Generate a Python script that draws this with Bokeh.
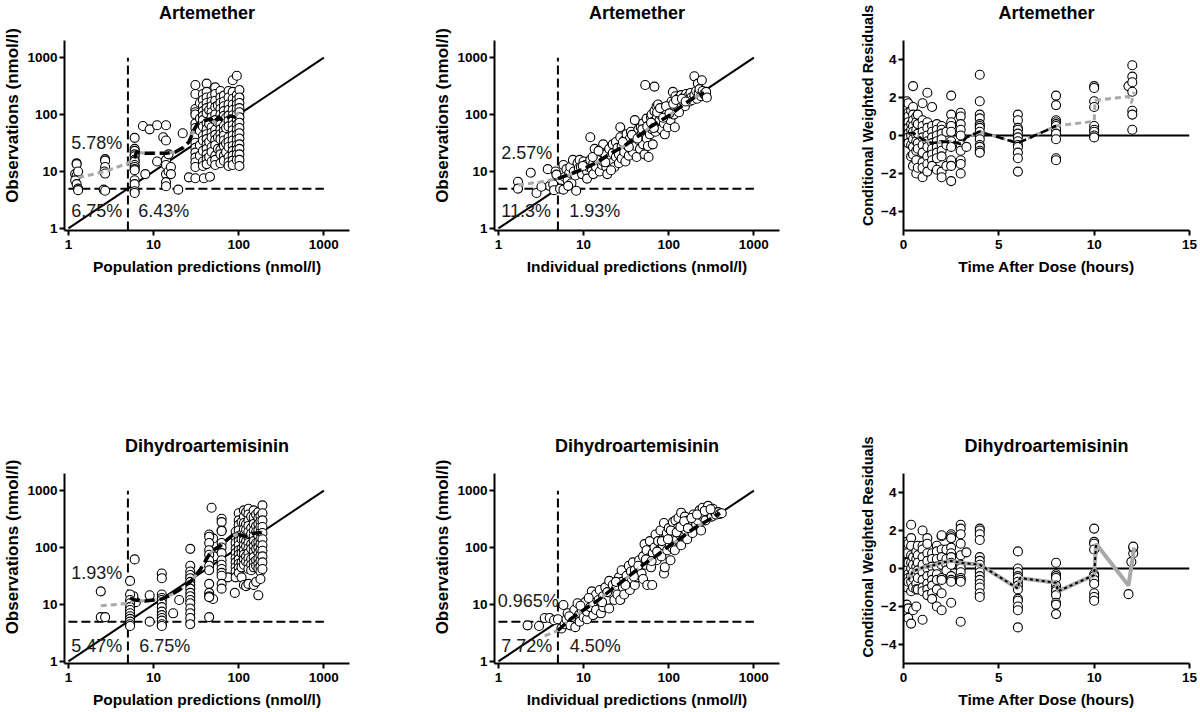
import math
from bokeh.plotting import figure
from bokeh.layouts import row, column
from bokeh.models import FixedTicker, BasicTickFormatter
from bokeh.core.properties import value
from bokeh.embed import file_html
from bokeh.resources import INLINE

FONT = "Liberation Sans"

# ---------------- DATA ----------------
LLOQ = 5
identity = [1, 1000]

# Artemether: population predictions vs observations
art_pred_pairs = [
    (1.25, 14), (1.25, 13.5), (1.2, 9), (1.25, 8.5), (1.3, 10), (1.2, 7), (1.25, 6), (1.3, 5), (1.3, 4.7),
    (2.7, 16.5), (2.7, 15.5), (2.7, 12), (2.65, 10), (2.7, 9.2), (2.6, 4.8), (2.7, 4.6),
    (6, 39), (6, 25), (6, 23), (6, 20), (6, 18.5), (6, 16), (6, 15), (6, 13), (6, 12), (6, 11), (6, 10.5),
    (6, 7), (6, 6), (6, 4.5), (6, 4.2),
    (7.5, 63), (8, 9), (9, 55), (11, 65), (11, 15), (14, 65), (13, 40), (14, 35), (14, 16), (14, 13),
    (14, 9), (14, 6.5), (14, 5.5), (15, 20), (15, 10), (16, 12), (16, 9), (19.5, 4.8), (22, 47),
    (26, 7.9), (31, 7.6), (39, 7.6), (46, 8.1),
]
art_pred_cols = [
    (31, [330, 230, 125, 110, 100, 70, 58, 47, 40, 32, 26, 21.5, 17.5, 14.5, 12]),
    (35, [160, 85, 52, 29, 19]),
    (38, [230, 180, 140, 115, 95, 80, 62, 42, 35, 23, 15, 12.5]),
    (42, [350, 250, 200, 160, 130, 105, 70, 55, 45, 37, 30, 25, 20, 16.5, 13.5]),
    (45, [120, 68, 33, 18]),
    (48, [210, 170, 140, 110, 90, 60, 48, 40, 27, 22, 15]),
    (53, [300, 230, 175, 135, 100, 80, 54, 44, 36, 29, 19, 16, 13]),
    (57, [145, 72, 40, 25]),
    (61, [260, 200, 160, 125, 100, 82, 67, 55, 45, 37, 24, 20, 14]),
    (67, [215, 170, 140, 115, 95, 63, 52, 43, 35, 28, 19, 15.5]),
    (71, [88, 58, 31, 22]),
    (76, [260, 200, 150, 120, 96, 78, 62, 40, 33, 27, 18, 14.5, 12.5]),
    (85, [400, 250, 190, 150, 120, 97, 80, 65, 53, 43, 35, 28, 23, 19, 15.5, 13]),
    (95, [480, 220, 180, 150, 125, 100, 82, 66, 54, 44, 36, 29, 24, 20, 16]),
    (102, [270, 200, 160, 130, 110, 90, 72, 58, 47, 38, 30, 25, 20, 16, 12.5]),
]
art_pred_gray_x = [1.3, 2.7, 5, 6, 6.3, 8, 10, 14, 18, 22, 26, 30, 33, 38, 42, 47, 52, 58, 65, 72, 80, 90, 100]
art_pred_gray_y = [7.8, 10, 14, 17, 22, 21, 21, 21, 22, 26, 33, 55, 70, 75, 80, 85, 72, 90, 78, 85, 95, 90, 110]
art_pred_black_x = [6, 6.3, 8, 10, 14, 18, 22, 26, 30, 33, 38, 42, 47, 52, 58, 65, 72, 80, 90, 100]
art_pred_black_y = [17, 22, 21, 21, 21, 22, 26, 33, 55, 70, 75, 80, 85, 72, 90, 78, 85, 95, 90, 110]
art_pred_pct = ["5.78%", "6.75%", "6.43%"]

# Artemether: individual predictions vs observations
art_ipred_pairs = [
    (1.7, 6.6), (1.7, 5.0), (2.4, 9.5), (2.8, 4.2), (3.8, 11), (4.0, 5.6), (4.4, 6.0), (4.5, 4.7), (4.7, 10),
    (5.3, 5.0), (5.8, 4.8), (6.0, 8.0), (5.8, 13), (6.3, 11), (6.5, 7.0), (6.8, 9.5), (7.0, 12), (7.2, 6.2),
    (7.5, 16), (7.7, 10), (8.0, 8.5), (8.2, 4.6), (8.5, 14), (8.8, 11.5), (9.0, 16), (9.3, 12), (9.6, 9),
    (10, 15), (10.5, 13), (11, 10), (11, 7.5), (11.5, 12), (12, 40), (12, 16), (12.5, 11), (13, 14), (13, 9),
    (13.5, 25), (14, 18), (14, 12), (15, 16), (15.5, 10), (16, 22), (16.5, 13), (17, 15), (17, 30), (18, 20),
    (18.5, 12), (19, 9), (20, 17), (20, 25), (21, 14), (22, 30), (22, 21), (23, 12), (24, 33), (24, 18),
    (25, 26), (26, 20), (26, 14), (27, 60), (27, 40), (28, 28), (28, 17), (30, 35), (30, 22), (31, 15),
    (32, 45), (33, 28), (34, 19), (35, 38), (36, 50), (36, 25), (38, 32), (38, 22), (40, 80), (40, 42),
    (41, 28), (42, 18), (44, 55), (45, 35), (46, 25), (47, 60), (48, 45), (50, 70), (50, 30), (52, 20),
    (53, 330), (54, 50), (55, 85), (55, 38), (57, 28), (58, 18), (60, 65), (60, 45), (62, 90), (63, 100),
    (64, 55), (65, 30), (66, 75), (68, 115), (68, 310), (70, 50), (72, 140), (73, 90), (75, 65), (75, 150),
    (78, 80), (80, 100), (82, 55), (85, 125), (88, 70), (90, 45), (92, 90), (95, 110), (98, 60), (100, 140),
    (105, 80), (108, 170), (110, 120), (112, 250), (115, 100), (118, 60), (120, 210), (125, 150), (128, 190),
    (130, 130), (135, 160), (140, 220), (145, 175), (150, 200), (155, 140), (160, 230), (165, 190),
    (170, 210), (175, 170), (180, 240), (185, 200), (190, 180), (200, 470), (200, 220), (210, 260),
    (215, 190), (220, 350), (225, 240), (230, 280), (240, 210), (245, 400), (250, 260), (260, 230),
    (270, 220), (275, 250), (280, 200),
    (3.2, 5.4), (4.8, 8.8), (6.6, 5.6), (9.8, 12.5), (12.8, 18), (15, 23), (18, 14.5), (21, 10.5),
    (29, 33), (34, 27), (37, 44), (43, 38), (49, 55), (56, 62), (62, 72), (67, 58), (73, 110), (79, 130),
    (86, 88), (93, 140), (102, 105), (113, 155), (122, 180), (132, 110), (143, 190), (158, 170),
]
art_ipred_gray_x = [1.7, 3, 5, 7, 10, 15, 20, 30, 40, 50, 60, 80, 100, 150, 200, 260]
art_ipred_gray_y = [5.8, 6.5, 7.5, 9, 11, 15, 20, 28, 38, 48, 60, 78, 95, 150, 200, 240]
art_ipred_black_x = [5, 7, 10, 15, 20, 30, 40, 50, 60, 80, 100, 150, 200, 260]
art_ipred_black_y = [7.5, 9, 11, 15, 20, 28, 38, 48, 60, 78, 95, 150, 200, 240]
art_ipred_pct = ["2.57%", "11.3%", "1.93%"]

# Artemether: CWRES vs time
art_cwres_cols = [
    (0.17, [1.8, 1.4, 0.9, 0.5, 0.2, -0.2]),
    (0.25, [1.7, 1.2, 1.0, 0.7, 0.4, 0.1, -0.1, -0.4]),
    (0.4, [1.3, 0.6, 0.3, 0.0, -0.5, -1.1]),
    (0.5, [2.6, 1.5, 1.1, 0.8, 0.5, 0.2, -0.2, -0.6, -1.0, -1.6]),
    (0.67, [1.0, 0.7, 0.3, 0.0, -0.3, -0.8, -1.3, -2.0]),
    (0.75, [1.1, 0.6, 0.1, -0.4, -0.7, -1.7]),
    (1.0, [1.7, 0.8, 0.5, 0.2, -0.1, -0.5, -0.9, -1.4, -1.7, -2.2]),
    (1.25, [2.25, 0.7, 0.4, 0.0, -0.3, -0.6, -1.1, -1.5, -1.9]),
    (1.5, [1.5, 0.5, 0.2, -0.1, -0.4, -0.7, -1.0, -1.3, -1.6]),
    (1.75, [0.6, 0.3, 0.0, -0.3, -0.6, -0.9, -1.2, -1.8]),
    (2.0, [0.5, 0.3, 0.1, -0.2, -0.5, -0.8, -1.1, -1.9, -2.2]),
    (2.25, [0.2, -0.5, -1.6]),
    (2.5, [2.1, 1.1, 0.7, 0.5, 0.2, -0.3, -0.6, -1.3, -1.6, -2.4]),
    (3.0, [1.2, 1.0, 0.6, 0.3, 0.0, -0.5, -0.8, -1.3, -1.5, -2.0]),
    (3.3, [-0.6]),
    (4.0, [3.2, 1.8, 1.1, 0.9, 0.6, 0.5, 0.4, 0.2, 0.0, -0.2, -0.5, -0.6, -0.8, -0.9]),
    (6.0, [1.1, 0.8, 0.4, 0.3, 0.1, -0.1, -0.3, -0.5, -0.6, -0.9, -1.2, -1.9]),
    (8.0, [2.1, 1.6, 0.8, 0.7, 0.6, 0.5, 0.3, 0.1, -0.2, -1.2, -1.3]),
    (10.0, [2.6, 2.5, 1.8, 1.5, 0.5, 0.3, 0.2, 0.0, -0.1]),
    (11.8, [2.6]),
    (12.0, [3.7, 3.1, 2.8, 2.3, 1.3, 1.1, 0.3]),
]
art_cwres_black_x = [0.25, 0.5, 1, 1.5, 2, 2.5, 3, 3.3, 4, 6, 8]
art_cwres_black_y = [0.1, 0.15, -0.2, -0.4, -0.35, -0.3, -0.45, -0.1, 0.2, -0.4, 0.5]
art_cwres_gray_x = [0.25, 0.5, 1, 1.5, 2, 2.5, 3, 3.3, 4, 6, 8, 10, 10.05, 11.8, 11.95, 12.1]
art_cwres_gray_y = [0.1, 0.15, -0.2, -0.4, -0.35, -0.3, -0.45, -0.1, 0.2, -0.4, 0.5, 0.75, 1.85, 2.05, 1.7, 2.3]

# Dihydroartemisinin: population predictions vs observations
dha_pred_pairs = [
    (2.4, 17), (2.4, 6), (2.7, 6), (6, 62), (6.2, 11), (5.8, 14), (9, 14.5), (9, 5), (17, 7), (20, 12),
    (48, 500), (50, 145), (50, 12.5), (52, 70), (75, 30), (90, 16),
]
dha_pred_cols = [
    (5.3, [26, 15, 12, 10.5, 9, 8, 7, 6.2, 5.6, 5, 4.5, 4.2]),
    (12.5, [35, 29, 15, 13, 12, 10.5, 9, 7.5, 6.5, 5.8, 5.2, 4.5, 4.2]),
    (27, [95, 48, 38, 33, 29, 25, 22, 19, 16, 14, 12, 10.5, 8.5, 7, 5.8, 4.5]),
    (45, [170, 155, 120, 90, 75, 60, 48, 40, 23, 16, 14, 13.5, 6]),
    (63, [320, 280, 200, 195, 120, 100, 80, 60, 50, 42, 36, 32, 23, 19]),
    (92, [190, 150, 120, 95, 80, 65, 55, 45, 38, 30]),
    (100, [400, 300, 250, 200, 160, 130, 110, 90, 75, 62, 52, 44, 36]),
    (108, [280, 170, 140, 95, 80, 55, 45, 30]),
    (115, [450, 350, 270, 210, 165, 135, 110, 90, 75, 62, 50, 22]),
    (122, [420, 260, 205, 130, 105, 70, 57, 21]),
    (130, [480, 380, 300, 240, 190, 150, 120, 97, 80, 65, 52, 42, 23]),
    (140, [350, 220, 175, 115, 95, 63, 50, 40]),
    (150, [450, 340, 260, 200, 160, 130, 105, 85, 68, 55, 45, 22]),
    (160, [380, 240, 190, 120, 95, 60, 48, 25]),
    (170, [420, 330, 260, 200, 160, 125, 100, 80, 65, 52, 43, 14.5]),
    (180, [360, 290, 230, 180, 140, 115, 90, 72, 58, 46, 38, 28]),
    (190, [550, 400, 300, 230, 180, 140, 110, 88, 70, 55, 42]),
]
dha_pred_gray_x = [2.4, 5.2, 6, 8, 10, 12.5, 15, 20, 27, 35, 45, 50, 60, 70, 85, 100, 120, 140, 160, 190]
dha_pred_gray_y = [9.5, 10.5, 12, 11.5, 12, 12.5, 14, 18, 25, 40, 75, 90, 105, 130, 165, 170, 155, 175, 180, 185]
dha_pred_black_x = [5.3, 6, 8, 10, 12.5, 15, 20, 27, 35, 45, 50, 60, 70, 85, 100, 120, 140, 160, 190]
dha_pred_black_y = [13, 12, 11.5, 12, 12.5, 14, 18, 25, 40, 75, 90, 105, 130, 165, 170, 155, 175, 180, 185]
dha_pred_pct = ["1.93%", "5.47%", "6.75%"]

# Dihydroartemisinin: individual predictions vs observations
dha_ipred_pairs = [
    (2.2, 4.3), (3.0, 4.2), (3.5, 5.8), (4.0, 5.8), (4.5, 5.3), (5.0, 5.5), (5.5, 3.8), (5.8, 9.8), (6, 4.5),
    (6.3, 5.5), (6.5, 7), (7, 4.3), (7.2, 6), (7.8, 8), (8, 4), (8.5, 10.5), (8.8, 6.5), (9, 5), (9.5, 8),
    (10, 6), (10.5, 11), (11, 5.5), (11, 7.5), (12, 9), (12.5, 17), (13, 11), (13, 6.5), (14, 15), (14, 8),
    (15, 12), (15.5, 18), (16, 7), (17, 14), (17, 9), (18, 20), (19, 12), (20, 26), (20, 8.5), (21, 16),
    (22, 22), (23, 12), (24, 19), (25, 15), (26, 30), (27, 12), (28, 40), (28, 25), (29, 20), (30, 15),
    (32, 32), (33, 25), (34, 48), (35, 18), (36, 38), (37, 28), (38, 55), (40, 22), (40, 40), (42, 30),
    (45, 60), (46, 45), (48, 35), (50, 70), (50, 28), (52, 115), (53, 50), (55, 90), (56, 22), (58, 65),
    (60, 130), (62, 45), (64, 22), (65, 80), (68, 100), (70, 170), (72, 60), (75, 130), (78, 90), (80, 200),
    (82, 70), (85, 110), (88, 270), (88, 35), (90, 45), (92, 150), (95, 180), (96, 90), (100, 220),
    (102, 120), (105, 60), (108, 160), (110, 100), (112, 280), (115, 190), (118, 90), (120, 300),
    (125, 140), (128, 220), (130, 330), (135, 170), (140, 410), (140, 110), (145, 250), (150, 160),
    (155, 350), (160, 200), (165, 140), (170, 300), (175, 230), (180, 260), (190, 180), (195, 380),
    (200, 320), (210, 250), (220, 300), (230, 450), (240, 200), (245, 360), (250, 500), (260, 380),
    (270, 300), (280, 430), (290, 540), (300, 420), (320, 350), (330, 480), (350, 410), (360, 380),
    (380, 420), (400, 390), (420, 400),
    (6.8, 6.2), (9.2, 9.5), (11.5, 13), (16.5, 11), (19, 16.5), (24, 25), (31, 22), (39, 31), (44, 48),
    (54, 62), (63, 58), (73, 85), (83, 130), (98, 140), (106, 200), (124, 185), (137, 230), (152, 290),
    (168, 220), (185, 330), (215, 380), (265, 440), (310, 470),
]
dha_ipred_gray_x = [3.5, 5, 7, 10, 15, 20, 30, 50, 70, 100, 150, 200, 300, 400]
dha_ipred_gray_y = [2.8, 3.5, 5.5, 8, 12, 17, 27, 50, 70, 105, 160, 220, 310, 400]
dha_ipred_black_x = [5, 7, 10, 15, 20, 30, 50, 70, 100, 150, 200, 300, 400]
dha_ipred_black_y = [3.5, 5.5, 8, 12, 17, 27, 50, 70, 105, 160, 220, 310, 400]
dha_ipred_pct = ["0.965%", "7.72%", "4.50%"]

# Dihydroartemisinin: CWRES vs time
dha_cwres_cols = [
    (0.17, [1.4, 0.8, 0.3, -0.1, -0.6, -1.0, -1.9, -2.2]),
    (0.25, [1.3, 0.3, -0.3, -0.5, -0.7, -2.1, -2.6]),
    (0.4, [2.3, 1.6, 1.2, 0.7, 0.3, 0.0, -0.4, -0.7, -1.2, -2.9]),
    (0.5, [0.6, 0.2, -0.2, -0.5, -1.0, -2.2]),
    (0.67, [0.9, 0.5, 0.1, -0.3, -0.8, -1.1, -2.0]),
    (0.75, [1.2, 0.7, 0.3, -0.1, -0.5, -1.1]),
    (1.0, [2.0, 1.2, 1.0, 0.6, 0.2, -0.2, -0.6, -1.0, -1.2, -2.7]),
    (1.25, [1.6, 1.3, 0.8, 0.4, 0.0, -0.4, -0.8, -1.1, -1.4]),
    (1.5, [0.8, 0.5, 0.1, -0.3, -0.6, -0.9, -1.3, -1.6]),
    (1.75, [1.2, 0.9, 0.5, 0.1, -0.3, -0.6, -1.1, -2.0]),
    (2.0, [1.7, 1.75, 1.0, 0.6, 0.2, -0.5, -0.6, -1.3, -2.2]),
    (2.25, [1.0, 0.5, 0.2, -0.1]),
    (2.5, [1.8, 1.7, 1.6, 1.1, 0.8, 0.6, 0.3, 0.2, -0.4, -0.6, -0.7, -1.8]),
    (3.0, [2.3, 2.1, 1.8, 1.3, 0.7, 0.2, 0.0, -0.2, -0.5, -0.6, -0.7, -2.8]),
    (3.3, [0.85]),
    (4.0, [2.1, 2.0, 1.8, 1.5, 0.6, 0.4, 0.2, 0.0, -0.2, -0.4, -0.6, -0.8, -1.0, -1.3, -1.5]),
    (6.0, [0.9, 0.0, -0.2, -0.4, -0.5, -0.7, -0.9, -1.1, -1.6, -1.7, -2.0, -2.2, -3.1]),
    (8.0, [0.3, -0.3, -0.4, -0.5, -0.9, -1.1, -1.2, -1.4, -1.8, -1.9, -2.4]),
    (10.0, [2.1, 1.4, 1.3, 1.0, -0.3, -0.4, -0.6, -0.8, -1.3, -1.5, -1.7]),
    (11.8, [-1.35]),
    (11.95, [0.35]),
    (12.05, [0.8, 1.1, 1.15]),
]
dha_cwres_gray_x = [0.25, 0.5, 1, 1.5, 2, 2.5, 3, 4, 6, 6.1, 8, 8.1, 10, 10.1, 11.8, 12.1]
dha_cwres_gray_y = [-0.6, -0.15, 0.05, 0.15, 0.3, 0.4, 0.3, 0.2, -1.05, -0.5, -0.75, -1.2, -0.35, 1.3, -0.9, 1.1]
dha_cwres_black_x = [0.25, 0.5, 1, 1.5, 2, 2.5, 3, 4, 6, 6.1, 8, 8.1, 10, 10.1]
dha_cwres_black_y = [-0.6, -0.15, 0.05, 0.15, 0.3, 0.4, 0.3, 0.2, -1.05, -0.5, -0.75, -1.2, -0.35, 1.3]

log_ticks = [1, 10, 100, 1000]
time_ticks = [0, 5, 10, 15]
cwres_ticks = [-4, -2, 0, 2, 4]

# ---------------- LAYOUT CONSTANTS ----------------
LOG_X = (0.9, 2000)
LOG_Y = (0.92, 2000)
TIME_X = (0, 15)
CW_Y = (-5, 5)
AXIS_PX = 190          # pixel height of the drawn y axis
TITLE_GAP = 28         # title centre above the top of the y axis

# label anchor positions (data coordinates) for the three percentage texts
pct_pos_pred = ([1.08, 1.08, 6.6], [32, 2.0, 2.0])
pct_pos_ipred = ([1.08, 1.08, 6.8], [21, 2.0, 2.0])
pct_pos_dha_pred = ([1.08, 1.08, 6.8], [36, 1.9, 1.9])
pct_pos_dha_ipred = ([0.98, 1.08, 6.9], [11.3, 1.9, 1.9])


def pairs_xy(pairs):
    return [a for a, _ in pairs], [b for _, b in pairs]


def cols_xy(cols):
    xs, ys = [], []
    for x, yl in cols:
        xs += [x] * len(yl)
        ys += yl
    return xs, ys


def style(p, xlabel, ylabel, ylab_size):
    p.outline_line_color = None
    p.xgrid.grid_line_color = None
    p.ygrid.grid_line_color = None
    for ax in (p.xaxis[0], p.yaxis[0]):
        ax.axis_line_width = 2
        ax.axis_line_color = "black"
        ax.major_tick_line_width = 2
        ax.major_tick_line_color = "black"
        ax.major_tick_out = 5
        ax.major_tick_in = 0
        ax.minor_tick_line_color = None
        ax.major_label_text_font = FONT
        ax.major_label_text_font_size = "13.5px"
        ax.major_label_text_font_style = "bold"
        ax.major_label_text_color = "black"
        ax.major_label_standoff = 2
        ax.axis_label_text_font = FONT
        ax.axis_label_text_font_style = "bold"
        ax.axis_label_text_color = "black"
        ax.axis_label_standoff = 2
    p.xaxis.major_label_standoff = 4
    p.xaxis.axis_label_standoff = 6
    p.xaxis.axis_label = xlabel
    p.yaxis.axis_label = ylabel
    p.xaxis.axis_label_text_font_size = "15.5px"
    p.yaxis.axis_label_text_font_size = ylab_size


def add_title(p, title, x, y):
    p.text(x=[x], y=[y], text=[title], text_font=value(FONT), text_font_size="18px",
           text_font_style="bold", text_align="center", text_baseline="middle", text_color="black")


def log_panel(title, xlabel, pts, gray, black, pct, pct_pos, size, borders, extra_px):
    w, h = size
    bl, br, bb = borders
    ppd = AXIS_PX / math.log10(LOG_Y[1] / LOG_Y[0])
    y_top = LOG_Y[1] * 10 ** (extra_px / ppd)
    p = figure(x_axis_type="log", y_axis_type="log", x_range=LOG_X, y_range=(LOG_Y[0], y_top),
               width=w, height=h, min_border_left=bl, min_border_right=br,
               min_border_top=0, min_border_bottom=bb, toolbar_location=None,
               output_backend="svg", title=None)
    style(p, xlabel, "Observations (nmol/l)", "17px")
    p.yaxis.bounds = LOG_Y
    p.xaxis.ticker = FixedTicker(ticks=log_ticks)
    p.yaxis.ticker = FixedTicker(ticks=log_ticks)
    p.xaxis.formatter = BasicTickFormatter()
    p.yaxis.formatter = BasicTickFormatter()
    p.line(identity, identity, line_color="black", line_width=2)
    p.line(identity, [LLOQ, LLOQ], line_color="black", line_width=2, line_dash="9 4")
    p.line([LLOQ, LLOQ], [LOG_Y[0], identity[1]], line_color="black", line_width=2, line_dash="9 4")
    xs, ys = pts
    p.scatter(xs, ys, size=9, fill_color="white", line_color="black", line_width=1.1)
    p.line(gray[0], gray[1], line_color="#a9a9a9", line_width=3, line_dash="6 4")
    p.line(black[0], black[1], line_color="black", line_width=3.5, line_dash="10 5")
    p.text(x=pct_pos[0], y=pct_pos[1], text=pct, text_font=value(FONT), text_font_size="18px",
           text_baseline="middle", text_align="left", text_color="#1a1a1a")
    add_title(p, title, math.sqrt(LOG_X[0] * LOG_X[1]), LOG_Y[1] * 10 ** (TITLE_GAP / ppd))
    return p


def cwres_panel(title, pts, gray, black, size, borders, extra_px, solid_gray):
    w, h = size
    bl, br, bb = borders
    ppu = AXIS_PX / (CW_Y[1] - CW_Y[0])
    p = figure(x_range=TIME_X, y_range=(CW_Y[0], CW_Y[1] + extra_px / ppu), width=w, height=h,
               min_border_left=bl, min_border_right=br, min_border_top=0, min_border_bottom=bb,
               toolbar_location=None, output_backend="svg", title=None)
    style(p, "Time After Dose (hours)", "Conditional Weighted Residuals", "14.5px")
    p.yaxis.bounds = CW_Y
    p.xaxis.ticker = FixedTicker(ticks=time_ticks)
    p.yaxis.ticker = FixedTicker(ticks=cwres_ticks)
    p.line(list(TIME_X), [0, 0], line_color="black", line_width=2)
    xs, ys = pts
    p.scatter(xs, ys, size=9, fill_color="white", line_color="black", line_width=1.1)
    if solid_gray:
        p.line(gray[0], gray[1], line_color="#a9a9a9", line_width=4)
        p.line(black[0], black[1], line_color="black", line_width=2, line_dash="3 3")
    else:
        p.line(gray[0], gray[1], line_color="#a9a9a9", line_width=3, line_dash="6 4")
        p.line(black[0], black[1], line_color="black", line_width=2.5, line_dash="8 4")
    add_title(p, title, (TIME_X[0] + TIME_X[1]) / 2, CW_Y[1] + TITLE_GAP / ppu)
    return p


TOP_H, BOT_H = 430, 282
TOP_EXTRA, BOT_EXTRA = 40, 43
TOP_BB = TOP_H - TOP_EXTRA - AXIS_PX
BOT_BB = BOT_H - BOT_EXTRA - AXIS_PX

ax, ay = pairs_xy(art_pred_pairs)
cx, cy = cols_xy(art_pred_cols)
p1 = log_panel("Artemether", "Population predictions (nmol/l)", (ax + cx, ay + cy),
               (art_pred_gray_x, art_pred_gray_y), (art_pred_black_x, art_pred_black_y),
               art_pred_pct, pct_pos_pred, (430, TOP_H), (63, 81, TOP_BB), TOP_EXTRA)
p2 = log_panel("Artemether", "Individual predictions (nmol/l)", pairs_xy(art_ipred_pairs),
               (art_ipred_gray_x, art_ipred_gray_y), (art_ipred_black_x, art_ipred_black_y),
               art_ipred_pct, pct_pos_ipred, (410, TOP_H), (63, 61, TOP_BB), TOP_EXTRA)
p3 = cwres_panel("Artemether", cols_xy(art_cwres_cols), (art_cwres_gray_x, art_cwres_gray_y),
                 (art_cwres_black_x, art_cwres_black_y), (360, TOP_H), (63, 11, TOP_BB), TOP_EXTRA, False)

dx, dy = pairs_xy(dha_pred_pairs)
ex, ey = cols_xy(dha_pred_cols)
p4 = log_panel("Dihydroartemisinin", "Population predictions (nmol/l)", (dx + ex, dy + ey),
               (dha_pred_gray_x, dha_pred_gray_y), (dha_pred_black_x, dha_pred_black_y),
               dha_pred_pct, pct_pos_dha_pred, (430, BOT_H), (63, 81, BOT_BB), BOT_EXTRA)
p5 = log_panel("Dihydroartemisinin", "Individual predictions (nmol/l)", pairs_xy(dha_ipred_pairs),
               (dha_ipred_gray_x, dha_ipred_gray_y), (dha_ipred_black_x, dha_ipred_black_y),
               dha_ipred_pct, pct_pos_dha_ipred, (410, BOT_H), (63, 61, BOT_BB), BOT_EXTRA)
p6 = cwres_panel("Dihydroartemisinin", cols_xy(dha_cwres_cols), (dha_cwres_gray_x, dha_cwres_gray_y),
                 (dha_cwres_black_x, dha_cwres_black_y), (360, BOT_H), (63, 11, BOT_BB), BOT_EXTRA, True)

layout = column(row(p1, p2, p3), row(p4, p5, p6))
open("out.html", "w").write(file_html(layout, INLINE))
